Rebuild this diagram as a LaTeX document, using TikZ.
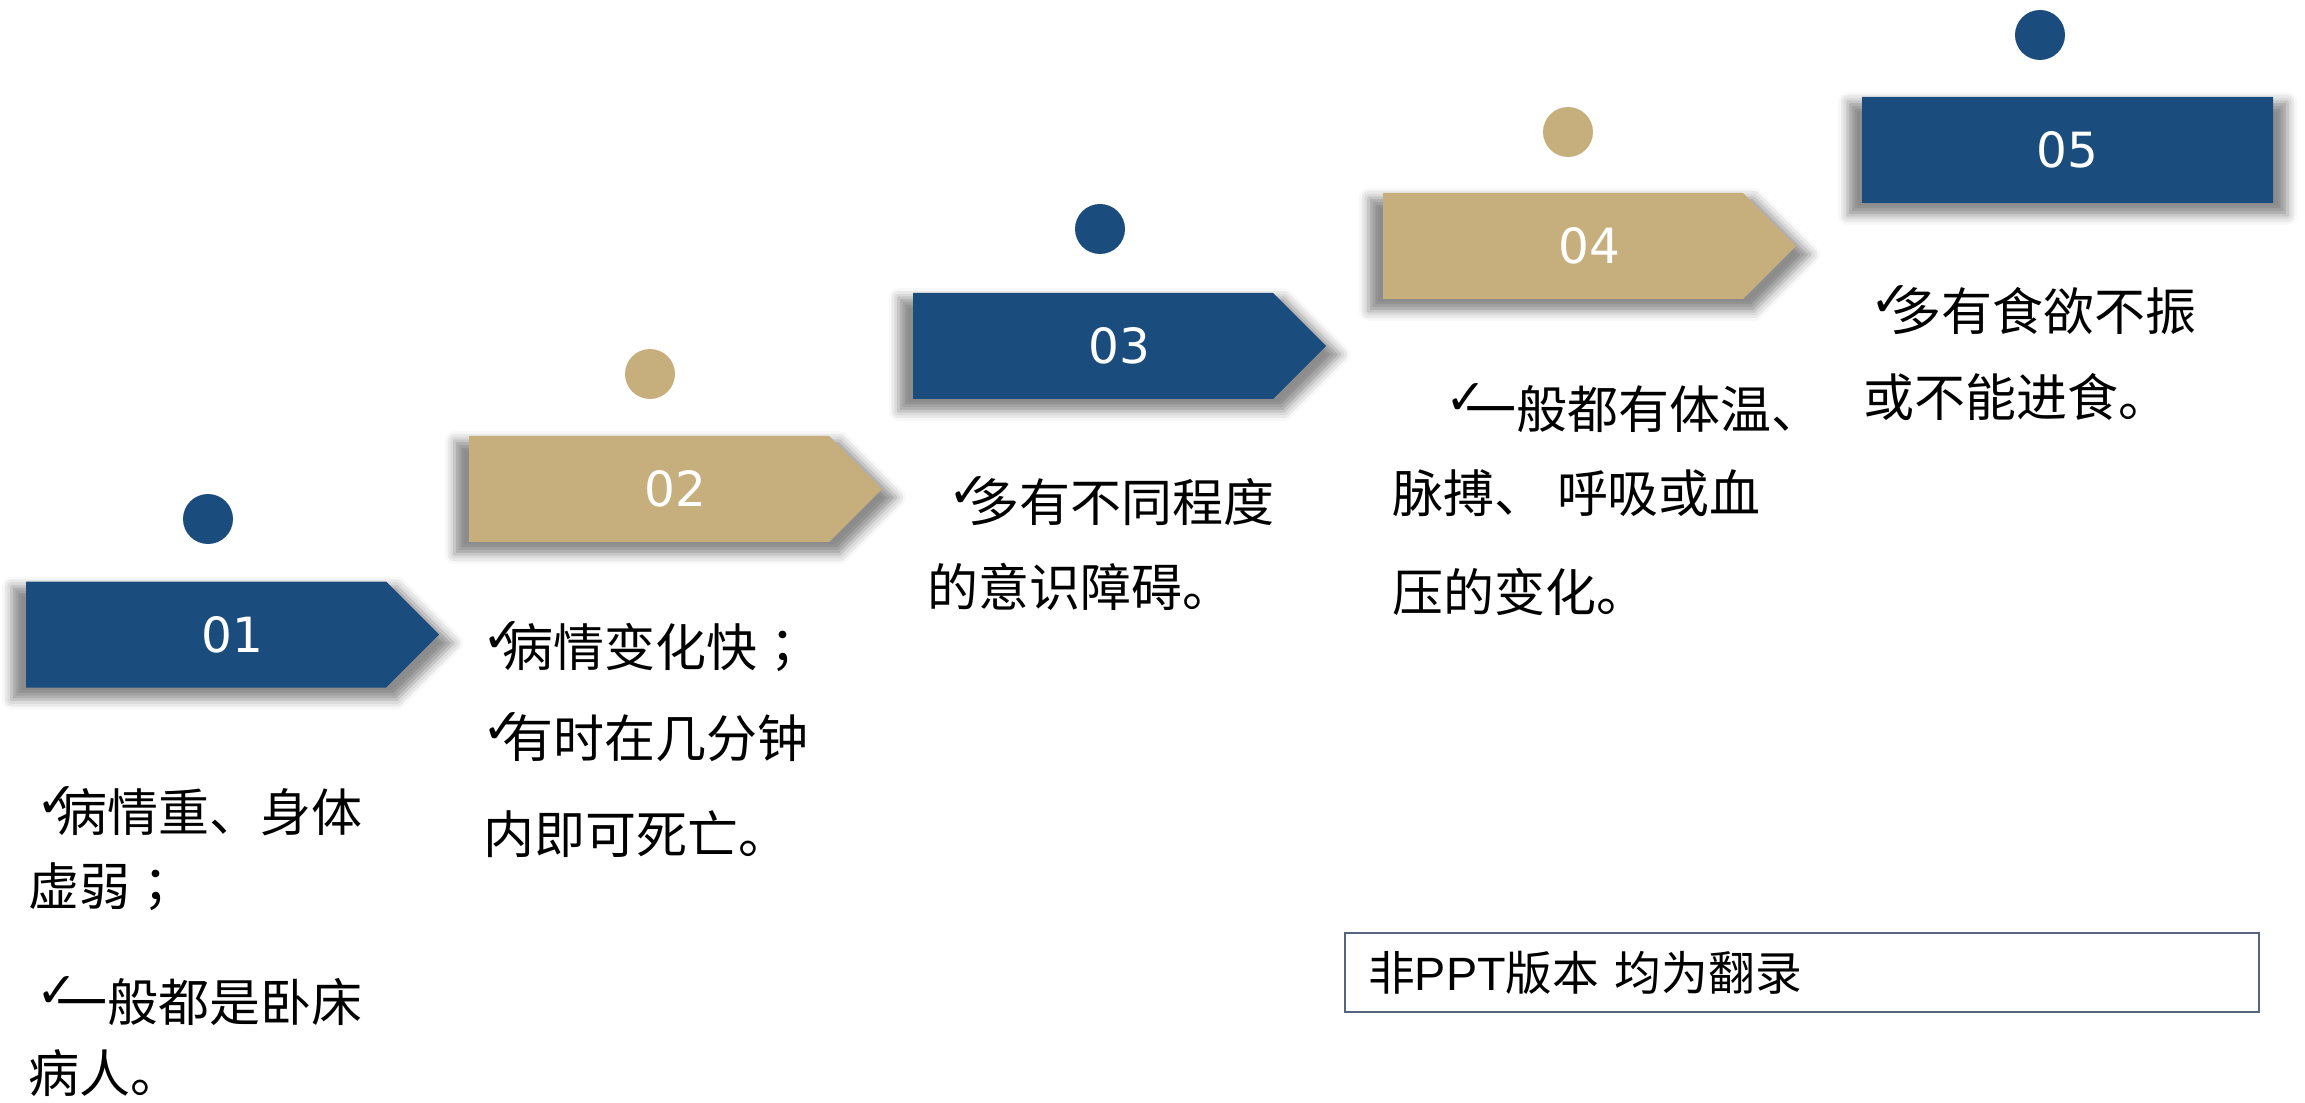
\documentclass[tikz,border=0pt]{standalone}
\usepackage{fontspec}
\setmainfont{Noto Sans CJK SC}
\newfontfamily\tcfont{Noto Sans CJK TC}
\newfontfamily\labelfont{DejaVu Sans}
\newfontfamily\checkfont{DejaVu Sans}
\newfontfamily\latinfont{Liberation Sans}
\usetikzlibrary{shapes.symbols,shadows.blur}

\definecolor{stepblue}{HTML}{1B4C7E}
\definecolor{steptan}{HTML}{C6AF7C}
\definecolor{noteframe}{HTML}{56657F}

\newcommand{\chk}{\raisebox{4pt}{\checkfont\fontsize{14pt}{14pt}\selectfont ✓}\kern-6pt}
\newcommand{\semi}{{\tcfont ；}}

\tikzset{
    stepbox/.style={shape=signal, signal to=east, signal pointer angle=90,
        minimum width=4.13cm, minimum height=1.06cm, inner sep=0pt,
        fill=#1, text=white, font=\labelfont\fontsize{13.8pt}{14pt}\selectfont,
        blur shadow={shadow xshift=0pt, shadow yshift=-0.08cm, shadow scale=1.07,
            shadow blur radius=0.09cm, shadow opacity=45}},
    stepend/.style={stepbox=#1, signal to=nowhere},
    dot/.style={circle, fill=#1, minimum size=0.5cm, inner sep=0pt},
    desc/.style={anchor=west, inner sep=0pt, font=\fontsize{14.5pt}{17pt}\selectfont},
    notebox/.style={draw=noteframe, line width=0.7pt, anchor=north west,
        minimum height=0.79cm, text width=8.68cm, inner xsep=0.23cm, inner ysep=0pt,
        align=left, font=\fontsize{13.3pt}{14pt}\selectfont}
}

\begin{document}
\begin{tikzpicture}

    \useasboundingbox (0,0) rectangle (23.05,-11.03);

    \node[stepbox=stepblue] (b1) at (2.06,-6.345) {\hspace*{0.53cm}01};
    \node[stepbox=steptan]  (b2) at (6.49,-4.89) {\hspace*{0.53cm}02};
    \node[stepbox=stepblue] (b3) at (10.93,-3.46) {\hspace*{0.53cm}03};
    \node[stepbox=steptan]  (b4) at (15.63,-2.46) {\hspace*{0.53cm}04};
    \node[stepend=stepblue, minimum width=4.11cm] (b5) at (20.675,-1.50) {05};

    \node[dot=stepblue] (d1) at (2.08,-5.19) {};
    \node[dot=steptan]  (d2) at (6.50,-3.74) {};
    \node[dot=stepblue] (d3) at (11.00,-2.29) {};
    \node[dot=steptan]  (d4) at (15.68,-1.32) {};
    \node[dot=stepblue] (d5) at (20.40,-0.35) {};

    \node[desc] (t1a) at (0.36,-8.11) {\chk 病情重、身体};
    \node[desc] (t1b) at (0.28,-8.87) {虚弱\semi};
    \node[desc] (t1c) at (0.36,-10.01) {\chk 一般都是卧床};
    \node[desc] (t1d) at (0.28,-10.73) {病人。};

    \node[desc] (t2a) at (4.82,-6.47) {\chk 病情变化快\semi};
    \node[desc] (t2b) at (4.82,-7.37) {\chk 有时在几分钟};
    \node[desc] (t2c) at (4.83,-8.34) {内即可死亡。};

    \node[desc] (t3a) at (9.48,-5.01) {\chk 多有不同程度};
    \node[desc] (t3b) at (9.27,-5.87) {的意识障碍。};

    \node[desc] (t4a) at (14.45,-4.08) {\chk 一般都有体温、};
    \node[desc] (t4b) at (13.92,-4.93) {脉搏、 呼吸或血};
    \node[desc] (t4c) at (13.92,-5.92) {压的变化。};

    \node[desc] (t5a) at (18.70,-3.10) {\chk 多有食欲不振};
    \node[desc] (t5b) at (18.63,-3.97) {或不能进食。};

    \node[notebox] (nb) at (13.44,-9.32) {非{\latinfont PPT}版本 均为翻录};

\end{tikzpicture}
\end{document}
